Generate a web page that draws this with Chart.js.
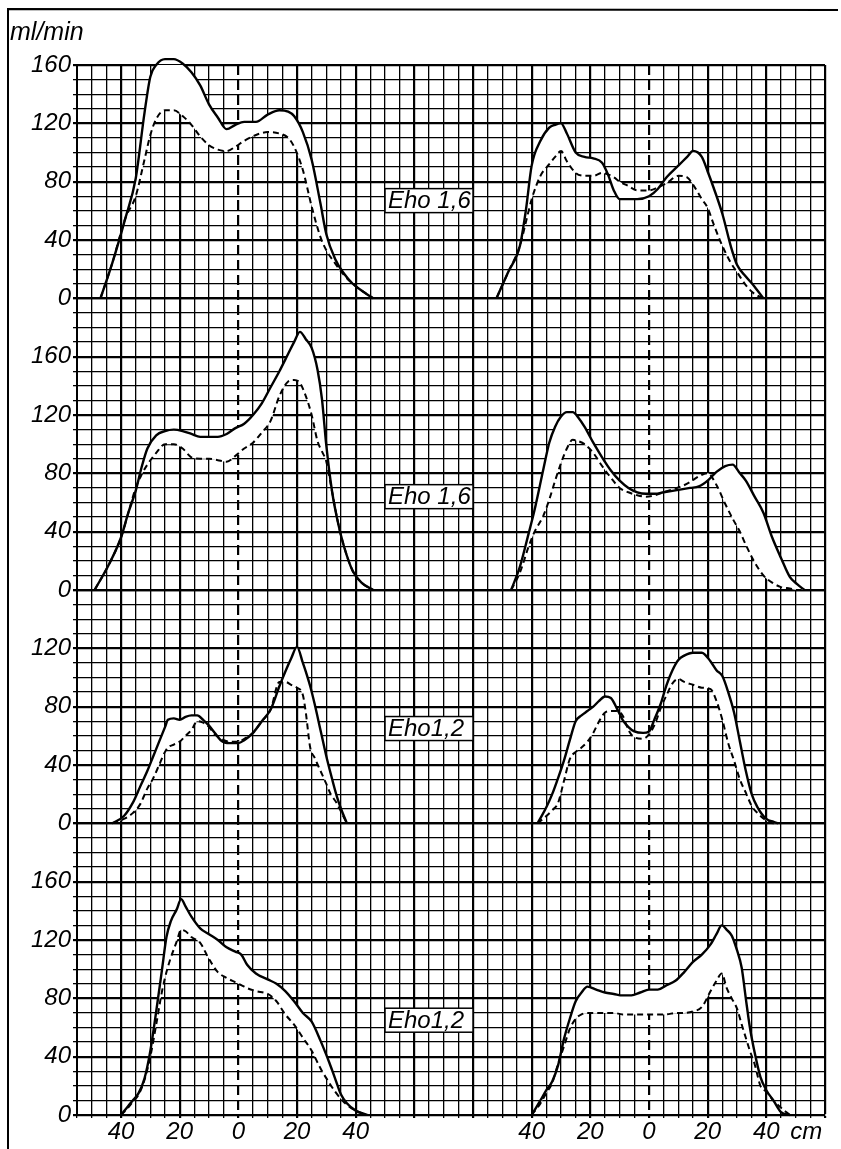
<!DOCTYPE html>
<html>
<head>
<meta charset="utf-8">
<script src="https://cdn.jsdelivr.net/npm/chart.js@4.4.1/dist/chart.umd.min.js"></script>
<style>
  html, body { margin: 0; padding: 0; background: #fff; }
  #wrap { width: 841px; height: 1149px; position: relative; }
</style>
</head>
<body>
<div id="wrap"><canvas id="flowChart"></canvas></div>
<script>
// distance from the centre (cm) and flow (ml/min)
// panel 1 = top ... panel 4 = bottom, L/R = left and right profile
const p1LeftCm      = [-47, -43, -38.5, -35, -32, -30, -28, -25, -22, -19, -16, -13, -10, -7, -4, -1, 2, 6, 10, 14, 17, 19, 22, 25, 28, 30, 33, 36, 39, 43, 46];
const p1LeftSolid   = [0, 24, 55, 82, 127, 152, 160, 164, 164, 161, 155, 146, 133, 124, 116, 119, 121, 121, 126, 129, 128, 125, 114, 95, 65, 44, 27, 17, 10, 4, 0];
const p1LeftDashed  = [0, 24, 55, 70, 95, 112, 123, 129, 129, 125, 119, 111, 105, 102, 101, 104, 108, 112, 114, 113, 110, 104, 88, 63, 42, 33, 24, 16, 10, 4, 0];

const p1RightCm     = [-52, -48, -44, -42, -40, -37, -34, -32, -30, -28, -25, -22, -19, -16, -14, -12, -10, -7, -4, 0, 3, 6, 10, 13, 15, 18, 20, 22, 25, 28, 30, 33, 36, 39];
const p1RightSolid  = [0, 18, 36, 60, 91, 108, 117, 119, 120, 113, 100, 97, 96, 93, 85, 74, 68, 68, 68, 70, 75, 83, 91, 97, 101, 97, 87, 76, 58, 35, 23, 15, 8, 0];
const p1RightDashed = [0, 18, 36, 52, 68, 84, 92, 97, 101, 94, 86, 84, 84, 86, 85, 83, 80, 77, 74, 74, 76, 79, 84, 83, 78, 68, 62, 51, 36, 24, 18, 9, 3, 0];

const p2LeftCm      = [-49, -44, -40, -37.5, -35, -33, -31, -28, -25, -22, -19, -16, -13, -10, -7, -4, -1, 2, 5, 8, 11, 14, 17, 19, 21, 23, 25, 27, 28.5, 30, 32, 34, 36, 39, 42, 46];
const p2LeftSolid   = [0, 18, 36, 53, 68, 84, 97, 106, 109, 110, 109, 107, 105, 105, 105, 107, 111, 114, 120, 128, 139, 150, 162, 170, 177, 172, 166, 151, 131, 99, 67, 46, 30, 13, 5, 0];
const p2LeftDashed  = [0, 18, 36, 53, 70, 79, 86, 94, 100, 100, 97, 91, 90, 90, 89, 88, 92, 97, 101, 108, 116, 133, 143, 144, 142, 133, 120, 102, 95, 88, 67, 46, 30, 13, 5, 0];

const p2RightCm     = [-47, -44, -41, -39, -36, -34, -32, -30, -28, -26, -24, -22, -19, -16, -13, -10, -7, -4, -1, 2, 5, 8, 11, 14, 17, 20, 23, 26, 28.5, 31, 33, 36, 39, 42, 45, 48, 50.5, 53];
const p2RightSolid  = [0, 16, 39, 55, 83, 101, 112, 119, 122, 122, 118, 112, 101, 91, 82, 75, 70, 67, 66, 66, 67, 68, 69, 70, 71, 75, 81, 85, 86, 80, 75, 64, 53, 36, 22, 9, 4, 0];
const p2RightDashed = [0, 12, 30, 40, 51, 62, 75, 87, 97, 103, 102, 100, 94, 85, 77, 70, 67, 65, 64, 65, 67, 69, 71, 74, 78, 80, 72, 59, 49, 40, 31, 19, 10, 5, 2, 1, 0, 0];

const p3LeftCm      = [-43, -39, -36, -33.5, -31, -29, -27, -25, -24, -22, -20, -18, -16, -14, -12, -10, -8, -6, -3, 0, 2, 5, 8, 11, 14, 16, 18, 20, 22, 23, 24.5, 26, 28, 30, 31.5, 33.5, 35, 37];
const p3LeftSolid   = [0, 5, 14, 25, 36, 46, 56, 66, 71, 72, 71, 73, 74, 74, 71, 67, 62, 57, 55, 55, 57, 62, 70, 78, 94, 104, 113, 121, 110, 104, 94, 82, 64, 46, 34, 19, 10, 0];
const p3LeftDashed  = [0, 3, 7, 13, 24, 31, 40, 49, 52, 54, 56, 60, 64, 70, 69, 66, 61, 58, 56, 56, 58, 62, 70, 78, 97, 97, 95, 93, 88, 76, 52, 45, 36, 27, 20, 14, 8, 0];

const p3RightCm     = [-38, -35, -33, -31, -29, -27, -25, -23, -21, -19, -17, -15, -13, -11, -9, -7, -5, -2, 0, 2, 4, 6, 8, 10, 12, 15, 18, 21, 23, 25, 27, 29, 31, 33, 35, 37, 40, 42.5, 44];
const p3RightSolid  = [0, 11, 20, 31, 43, 57, 70, 74, 77, 80, 84, 87, 86, 79, 71, 66, 63, 62, 63, 72, 82, 95, 105, 112, 115, 117, 117, 111, 105, 101, 90, 76, 56, 36, 20, 11, 3, 1, 0];
const p3RightDashed = [0, 5, 9, 14, 29, 44, 49, 52, 56, 62, 70, 76, 77, 77, 74, 64, 59, 58, 61, 68, 79, 88, 96, 99, 97, 95, 93, 92, 84, 71, 55, 43, 30, 21, 12, 7, 2, 0, 0];

const p4LeftCm      = [-40, -38, -36, -34, -32, -30, -28, -26, -24.5, -23, -21, -19.5, -18, -16, -13, -10, -7, -4, -1, 1, 3, 6, 10, 13, 16, 19, 22, 25, 28, 31, 33, 35, 37, 40, 44];
const p4LeftSolid   = [0, 5, 10, 15, 25, 44, 71, 100, 122, 133, 141, 148, 143, 136, 128, 124, 120, 115, 112, 110, 103, 97, 93, 90, 85, 78, 70, 64, 51, 36, 25, 14, 8, 3, 0];
const p4LeftDashed  = [0, 4, 9, 14, 24, 40, 62, 85, 98, 108, 119, 127, 126, 122, 118, 107, 98, 94, 91, 89, 87, 85, 83, 78, 69, 62, 53, 44, 32, 22, 16, 11, 7, 3, 0];

const p4RightCm     = [-40, -37, -35, -33, -31, -29, -27, -25, -23, -21, -18, -15, -12, -9, -6, -3, 0, 3, 6, 9, 12, 15, 18, 21, 23, 24.8, 26.5, 28.2, 30, 31.6, 33, 34.4, 36, 38, 40, 42.4, 45, 48];
const p4RightSolid  = [0, 10, 17, 23, 34, 52, 66, 78, 84, 88, 86, 84, 83, 82, 82, 84, 86, 86, 89, 92, 98, 105, 110, 117, 124, 130, 127, 123, 113, 101, 80, 60, 43, 26, 17, 10, 2, 0];
const p4RightDashed = [0, 8, 15, 22, 35, 47, 59, 66, 69, 70, 70, 70, 70, 69, 69, 69, 69, 69, 69, 70, 70, 71, 74, 85, 92, 97, 87, 80, 73, 62, 53, 44, 35, 20, 16, 10, 5, 0];

const xTickCm   = [-40, -20, 0, 20, 40];          // labelled around each centre
const p1YLabels = [0, 40, 80, 120, 160];
const p2YLabels = [0, 40, 80, 120, 160];
const p3YLabels = [0, 40, 80, 120];
const p4YLabels = [0, 40, 80, 120, 160];
const panelTags = ['Eho 1,6', 'Eho 1,6', 'Eho1,2', 'Eho1,2'];

const FONT = '"Liberation Sans", Arial, sans-serif';
const CENTRES = [0, 140];           // left and right profile on one x scale
const TAG_LEVEL = [67, 64, 65, 65];  // where the tag boxes sit in each panel

const datasets = [];
function addPair(axisId, cm, solid, dashed, centre) {
  datasets.push({
    data: cm.map((c, i) => ({ x: centre + c, y: solid[i] })),
    yAxisID: axisId,
    borderColor: '#000', borderWidth: 2.4, pointRadius: 0,
    cubicInterpolationMode: 'monotone',
    clip: false,
    fill: '+1', backgroundColor: '#fff'
  });
  datasets.push({
    data: cm.map((c, i) => ({ x: centre + c, y: dashed[i] })),
    yAxisID: axisId,
    borderColor: '#000', borderWidth: 2, borderDash: [6, 4], pointRadius: 0,
    cubicInterpolationMode: 'monotone',
    clip: false,
    fill: false
  });
}
addPair('p1', p1LeftCm, p1LeftSolid, p1LeftDashed, CENTRES[0]);
addPair('p1', p1RightCm, p1RightSolid, p1RightDashed, CENTRES[1]);
addPair('p2', p2LeftCm, p2LeftSolid, p2LeftDashed, CENTRES[0]);
addPair('p2', p2RightCm, p2RightSolid, p2RightDashed, CENTRES[1]);
addPair('p3', p3LeftCm, p3LeftSolid, p3LeftDashed, CENTRES[0]);
addPair('p3', p3RightCm, p3RightSolid, p3RightDashed, CENTRES[1]);
addPair('p4', p4LeftCm, p4LeftSolid, p4LeftDashed, CENTRES[0]);
addPair('p4', p4RightCm, p4RightSolid, p4RightDashed, CENTRES[1]);

function panelAxis(max, labels) {
  return {
    type: 'linear', axis: 'y', position: 'left',
    stack: 'rows', stackWeight: max,
    min: 0, max: max,
    afterBuildTicks: s => {
      s.ticks = [];
      for (let v = 0; v <= max; v += 10) s.ticks.push({ value: v });
    },
    afterFit: s => { s.width = 77; s.paddingTop = 0; s.paddingBottom = 0; },
    ticks: {
      autoSkip: false, padding: 2, color: '#000',
      font: { family: FONT, size: 24, style: 'italic' },
      callback: v => labels.includes(v) ? String(v) : ''
    },
    grid: {
      color: '#000', tickColor: '#000', tickLength: 4,
      lineWidth: c => (c.tick && c.tick.value % 40 === 0) ? 2.2 : 1.3
    },
    border: { color: '#000', width: 2 }
  };
}

const decorations = {
  id: 'decorations',
  afterDraw(chart) {
    const { ctx, scales } = chart;
    const xs = scales.x;
    ctx.save();
    // scan frame
    ctx.strokeStyle = '#000';
    ctx.lineWidth = 2;
    ctx.beginPath();
    ctx.moveTo(8, 1149); ctx.lineTo(8, 9); ctx.lineTo(838, 10);
    ctx.stroke();

    ctx.fillStyle = '#000';
    ctx.font = `italic 25px ${FONT}`;
    ctx.textBaseline = 'middle';
    ctx.textAlign = 'left';
    ctx.fillText('ml/min', 10, 33);
    ctx.font = `italic 24px ${FONT}`;
    ctx.fillText('cm', xs.getPixelForValue(CENTRES[1] + 40) + 24, xs.top + 17);

    // tag boxes
    ['p1', 'p2', 'p3', 'p4'].forEach((id, i) => {
      const ys = scales[id];
      const left = xs.getPixelForValue(50);
      const right = xs.getPixelForValue(80);
      const cy = ys.getPixelForValue(TAG_LEVEL[i]);
      ctx.fillStyle = '#fff';
      ctx.fillRect(left, cy - 12, right - left, 24);
      ctx.lineWidth = 1.5;
      ctx.strokeRect(left, cy - 12, right - left, 24);
      ctx.fillStyle = '#000';
      ctx.font = `italic 24px ${FONT}`;
      ctx.fillText(panelTags[i], left + 3, cy + 1);
    });
    ctx.restore();
  }
};

new Chart(document.getElementById('flowChart'), {
  type: 'line',
  data: { datasets: datasets },
  options: {
    responsive: true,
    maintainAspectRatio: false,
    animation: false,
    layout: { padding: { left: 0, top: 65, right: 16, bottom: 0 } },
    plugins: {
      legend: { display: false },
      tooltip: { enabled: false },
      filler: { drawTime: 'beforeDatasetsDraw' }
    },
    scales: {
      x: {
        type: 'linear', min: -55, max: 200,
        afterBuildTicks: s => {
          s.ticks = [];
          for (let v = -55; v <= 200; v += 5) s.ticks.push({ value: v });
        },
        afterFit: s => { s.height = 34; s.paddingLeft = 0; s.paddingRight = 0; },
        ticks: {
          autoSkip: false, maxRotation: 0, minRotation: 0, padding: 0, color: '#000',
          font: { family: FONT, size: 24, style: 'italic' },
          callback: v => {
            for (const c of CENTRES) {
              if (xTickCm.includes(v - c)) return String(Math.abs(v - c));
            }
            return '';
          }
        },
        grid: {
          color: '#000', tickColor: '#000', tickLength: 3,
          lineWidth: c => (c.tick && c.tick.value % 20 === 0) ? 2.2 : 1.3
        },
        border: {
          color: '#000', width: 2,
          dash: c => (c.tick && CENTRES.includes(c.tick.value)) ? [10, 5] : []
        }
      },
      // listed bottom-up: the last one in a left stack is placed on top
      p4: panelAxis(200, p4YLabels),
      p3: panelAxis(160, p3YLabels),
      p2: panelAxis(200, p2YLabels),
      p1: panelAxis(160, p1YLabels)
    }
  },
  plugins: [decorations]
});
</script>
</body>
</html>
